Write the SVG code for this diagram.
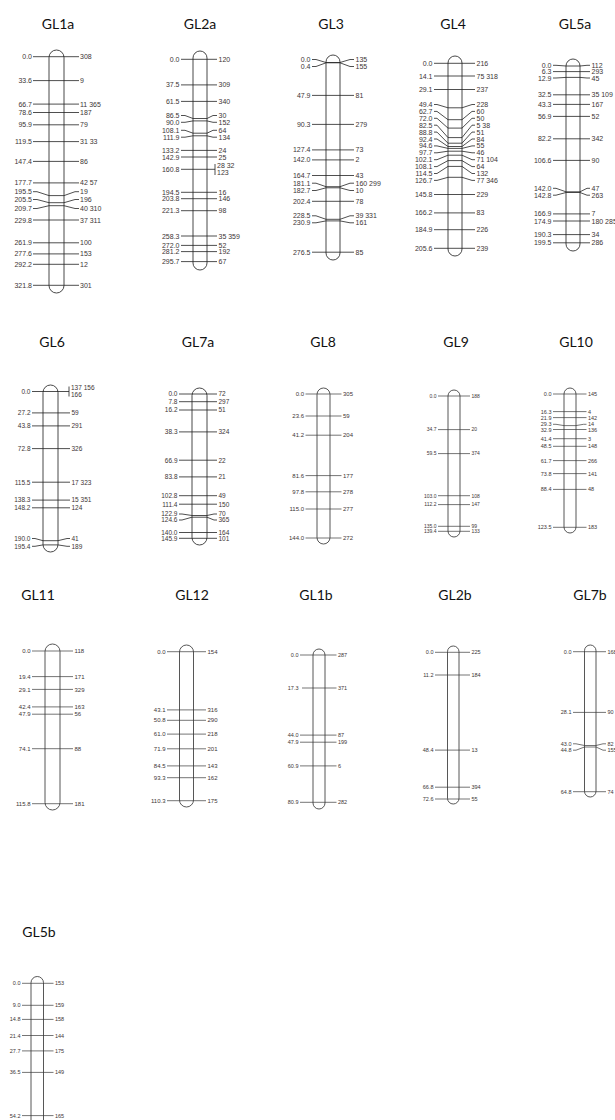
<svg xmlns="http://www.w3.org/2000/svg" width="615" height="1120" viewBox="0 0 615 1120">
<style>
.bg{fill:#fff}
.chr{fill:none;stroke:#333;stroke-width:0.9}
.m path{fill:none;stroke:#222;stroke-width:0.8}
.lt .chr{stroke:#444}
.lt .m path{stroke:#3a3a3a;stroke-width:0.7}
.t{font-family:Lato,"Open Sans","Liberation Sans",sans-serif;font-size:14px;fill:#111;text-anchor:middle}
.l,.r{font-family:"Liberation Sans",Arial,sans-serif;fill:#3d3535}
.l{text-anchor:end}
.f7{font-size:7px}.f65{font-size:6.5px}.f6{font-size:6px}.f55{font-size:5.5px}.f5{font-size:5px}
</style>
<rect class="bg" x="0" y="0" width="615" height="1120"/>

<g id="GL1a">
<text class="t" x="58" y="29">GL1a</text>
<rect class="chr" x="49" y="50" width="15" height="243" rx="7.5"/>
<g class="m">
<path d="M33 56.7H79"/><path d="M33 80.6H79"/><path d="M33 104.1H79"/><path d="M33 112.5H79"/><path d="M33 124.8H79"/><path d="M33 141.6H79"/><path d="M33 161.4H79"/><path d="M33 182.9H79"/>
<path d="M33 191.7h4L49 195.6H64L75 191.7h4"/><path d="M33 199.5h4L49 202.7H64L75 199.5h4"/><path d="M33 208.5h4L49 205.7H64L75 208.5h4"/>
<path d="M33 220H79"/><path d="M33 242.8H79"/><path d="M33 253.9H79"/><path d="M33 264.3H79"/><path d="M33 285.3H79"/>
</g>
<g class="l f7">
<text x="32" y="59.2">0.0</text><text x="32" y="83.1">33.6</text><text x="32" y="106.6">66.7</text><text x="32" y="115">78.6</text><text x="32" y="127.3">95.9</text><text x="32" y="144.1">119.5</text><text x="32" y="163.9">147.4</text><text x="32" y="185.4">177.7</text><text x="32" y="194.2">195.5</text><text x="32" y="202">205.5</text><text x="32" y="211">209.7</text><text x="32" y="222.5">229.8</text><text x="32" y="245.3">261.9</text><text x="32" y="256.4">277.6</text><text x="32" y="266.8">292.2</text><text x="32" y="287.8">321.8</text>
</g>
<g class="r f7">
<text x="80" y="59.2">308</text><text x="80" y="83.1">9</text><text x="80" y="106.6">11 365</text><text x="80" y="115">187</text><text x="80" y="127.3">79</text><text x="80" y="144.1">31 33</text><text x="80" y="163.9">86</text><text x="80" y="185.4">42 57</text><text x="80" y="194.2">19</text><text x="80" y="202">196</text><text x="80" y="211">40 310</text><text x="80" y="222.5">37 311</text><text x="80" y="245.3">100</text><text x="80" y="256.4">153</text><text x="80" y="266.8">12</text><text x="80" y="287.8">301</text>
</g>
</g>

<g id="GL2a">
<text class="t" x="200" y="29">GL2a</text>
<rect class="chr" x="193" y="51" width="14" height="219" rx="7"/>
<g class="m">
<path d="M181 59.3H217"/><path d="M181 84.9H217"/><path d="M181 101.4H217"/>
<path d="M181 115.5h4L193 118.5H207L213 115.5h4"/><path d="M181 122.3h4L193 120.9H207L213 122.3h4"/>
<path d="M181 130.3h4L193 133.2H207L213 130.3h4"/><path d="M181 137.2h4L193 135.8H207L213 137.2h4"/>
<path d="M181 150.4H217"/><path d="M181 157H217"/><path d="M181 169.3H215"/><path d="M215 164V175"/>
<path d="M181 192.3H217"/><path d="M181 198.7H217"/><path d="M181 210.7H217"/><path d="M181 236H217"/><path d="M181 245.4H217"/><path d="M181 251.6H217"/><path d="M181 261.6H217"/>
</g>
<g class="l f7">
<text x="179.5" y="61.8">0.0</text><text x="179.5" y="87.4">37.5</text><text x="179.5" y="103.9">61.5</text><text x="179.5" y="118">86.5</text><text x="179.5" y="124.8">90.0</text><text x="179.5" y="132.8">108.1</text><text x="179.5" y="139.7">111.9</text><text x="179.5" y="152.9">133.2</text><text x="179.5" y="159.5">142.9</text><text x="179.5" y="171.8">160.8</text><text x="179.5" y="194.8">194.5</text><text x="179.5" y="201.2">203.8</text><text x="179.5" y="213.2">221.3</text><text x="179.5" y="238.5">258.3</text><text x="179.5" y="247.9">272.0</text><text x="179.5" y="254.1">281.2</text><text x="179.5" y="264.1">295.7</text>
</g>
<g class="r f7">
<text x="218.5" y="61.8">120</text><text x="218.5" y="87.4">309</text><text x="218.5" y="103.9">340</text><text x="218.5" y="118">30</text><text x="218.5" y="124.8">152</text><text x="218.5" y="132.8">64</text><text x="218.5" y="139.7">134</text><text x="218.5" y="152.9">24</text><text x="218.5" y="159.5">25</text><text x="217" y="168.4">28 32</text><text x="217" y="175.1">123</text><text x="218.5" y="194.8">16</text><text x="218.5" y="201.2">146</text><text x="218.5" y="213.2">98</text><text x="218.5" y="238.5">35 359</text><text x="218.5" y="247.9">52</text><text x="218.5" y="254.1">192</text><text x="218.5" y="264.1">67</text>
</g>
</g>

<g id="GL3">
<text class="t" x="331" y="29">GL3</text>
<rect class="chr" x="326" y="55" width="14" height="205" rx="7"/>
<g class="m">
<path d="M312 59.5h4L326 62.5H340L350 59.5h4"/><path d="M312 66.5h4L326 62.8H340L350 66.5h4"/>
<path d="M312 95.4H354"/><path d="M312 124.4H354"/><path d="M312 149.9H354"/><path d="M312 159.9H354"/><path d="M312 175.5H354"/>
<path d="M312 183.2h4L326 186.7H340L350 183.2h4"/><path d="M312 190.5h4L326 187.8H340L350 190.5h4"/>
<path d="M312 201.3H354"/>
<path d="M312 215.8h4L326 219.3H340L350 215.8h4"/><path d="M312 222.8h4L326 220.9H340L350 222.8h4"/>
<path d="M312 252.2H354"/>
</g>
<g class="l f7">
<text x="310.5" y="62">0.0</text><text x="310.5" y="69">0.4</text><text x="310.5" y="97.9">47.9</text><text x="310.5" y="126.9">90.3</text><text x="310.5" y="152.4">127.4</text><text x="310.5" y="162.4">142.0</text><text x="310.5" y="178">164.7</text><text x="310.5" y="185.7">181.1</text><text x="310.5" y="193">182.7</text><text x="310.5" y="203.8">202.4</text><text x="310.5" y="218.3">228.5</text><text x="310.5" y="225.3">230.9</text><text x="310.5" y="254.7">276.5</text>
</g>
<g class="r f7">
<text x="355.5" y="62">135</text><text x="355.5" y="69">155</text><text x="355.5" y="97.9">81</text><text x="355.5" y="126.9">279</text><text x="355.5" y="152.4">73</text><text x="355.5" y="162.4">2</text><text x="355.5" y="178">43</text><text x="355.5" y="185.7">160 299</text><text x="355.5" y="193">10</text><text x="355.5" y="203.8">78</text><text x="355.5" y="218.3">39 331</text><text x="355.5" y="225.3">161</text><text x="355.5" y="254.7">85</text>
</g>
</g>

<g id="GL4">
<text class="t" x="453" y="29">GL4</text>
<rect class="chr" x="448" y="56" width="14" height="200" rx="7"/>
<g class="m">
<path d="M434 63.3H475"/><path d="M434 76H475"/><path d="M434 89.5H475"/>
<path d="M434 104.5h3L448 107.8H462L472 104.5h3"/><path d="M434 111.4h3L448 119.7H462L472 111.4h3"/><path d="M434 118.3h3L448 128.1H462L472 118.3h3"/><path d="M434 125.2h3L448 137.6H462L472 125.2h3"/><path d="M434 132.1h3L448 143.2H462L472 132.1h3"/><path d="M434 139h3L448 146.5H462L472 139h3"/><path d="M434 145.9h3L448 148.4H462L472 145.9h3"/><path d="M434 152.8h3L448 151.2H462L472 152.8h3"/><path d="M434 159.7h3L448 155.2H462L472 159.7h3"/><path d="M434 166.6h3L448 160.6H462L472 166.6h3"/><path d="M434 173.5h3L448 166.4H462L472 173.5h3"/><path d="M434 180.4h3L448 177.3H462L472 180.4h3"/>
<path d="M434 194.5H475"/><path d="M434 212.9H475"/><path d="M434 229.7H475"/><path d="M434 248.3H475"/>
</g>
<g class="l f7">
<text x="432.5" y="65.8">0.0</text><text x="432.5" y="78.5">14.1</text><text x="432.5" y="92">29.1</text><text x="432.5" y="107">49.4</text><text x="432.5" y="113.9">62.7</text><text x="432.5" y="120.8">72.0</text><text x="432.5" y="127.7">82.5</text><text x="432.5" y="134.6">88.8</text><text x="432.5" y="141.5">92.4</text><text x="432.5" y="148.4">94.6</text><text x="432.5" y="155.3">97.7</text><text x="432.5" y="162.2">102.1</text><text x="432.5" y="169.1">108.1</text><text x="432.5" y="176">114.5</text><text x="432.5" y="182.9">126.7</text><text x="432.5" y="197">145.8</text><text x="432.5" y="215.4">166.2</text><text x="432.5" y="232.2">184.9</text><text x="432.5" y="250.8">205.6</text>
</g>
<g class="r f7">
<text x="476.5" y="65.8">216</text><text x="476.5" y="78.5">75 318</text><text x="476.5" y="92">237</text><text x="476.5" y="107">228</text><text x="476.5" y="113.9">60</text><text x="476.5" y="120.8">50</text><text x="476.5" y="127.7">5 38</text><text x="476.5" y="134.6">51</text><text x="476.5" y="141.5">84</text><text x="476.5" y="148.4">55</text><text x="476.5" y="155.3">46</text><text x="476.5" y="162.2">71 104</text><text x="476.5" y="169.1">64</text><text x="476.5" y="176">132</text><text x="476.5" y="182.9">77 346</text><text x="476.5" y="197">229</text><text x="476.5" y="215.4">83</text><text x="476.5" y="232.2">226</text><text x="476.5" y="250.8">239</text>
</g>
</g>

<g id="GL5a">
<text class="t" x="575" y="29">GL5a</text>
<rect class="chr" x="566" y="59" width="14" height="192" rx="7"/>
<g class="m">
<path d="M553 65.3h3L566 66H580L587 65.3h3"/><path d="M553 71.6H590"/><path d="M553 78h3L566 77.4H580L587 78h3"/>
<path d="M553 94.8H590"/><path d="M553 104.4H590"/><path d="M553 116.4H590"/><path d="M553 138.8H590"/><path d="M553 160.4H590"/>
<path d="M553 188.3h3L566 191.8H580L587 188.3h3"/><path d="M553 195.2h3L566 192.5H580L587 195.2h3"/>
<path d="M553 213.9H590"/><path d="M553 221H590"/><path d="M553 234.6H590"/><path d="M553 242.8H590"/>
</g>
<g class="l f7">
<text x="551.5" y="67.8">0.0</text><text x="551.5" y="74.1">6.3</text><text x="551.5" y="80.5">12.9</text><text x="551.5" y="97.3">32.5</text><text x="551.5" y="106.9">43.3</text><text x="551.5" y="118.9">56.9</text><text x="551.5" y="141.3">82.2</text><text x="551.5" y="162.9">106.6</text><text x="551.5" y="190.8">142.0</text><text x="551.5" y="197.7">142.8</text><text x="551.5" y="216.4">166.9</text><text x="551.5" y="223.5">174.9</text><text x="551.5" y="237.1">190.3</text><text x="551.5" y="245.3">199.5</text>
</g>
<g class="r f7">
<text x="591.5" y="67.8">112</text><text x="591.5" y="74.1">293</text><text x="591.5" y="80.5">45</text><text x="591.5" y="97.3">35 109</text><text x="591.5" y="106.9">167</text><text x="591.5" y="118.9">52</text><text x="591.5" y="141.3">342</text><text x="591.5" y="162.9">90</text><text x="591.5" y="190.8">47</text><text x="591.5" y="197.7">263</text><text x="591.5" y="216.4">7</text><text x="591.5" y="223.5">180 285</text><text x="591.5" y="237.1">34</text><text x="591.5" y="245.3">286</text>
</g>
</g>

<g id="GL6">
<text class="t" x="52" y="347">GL6</text>
<rect class="chr" x="43" y="385" width="15" height="167" rx="7.5"/>
<g class="m">
<path d="M32 391.5H69"/><path d="M69 386.5V396.5"/>
<path d="M32 412.9H70"/><path d="M32 425.9H70"/><path d="M32 448.6H70"/><path d="M32 482.2H70"/><path d="M32 500.1H70"/><path d="M32 507.8H70"/>
<path d="M32 538.5h3L43 540.7H58L67 538.5h3"/><path d="M32 546.3h3L43 544.9H58L67 546.3h3"/>
</g>
<g class="l f65">
<text x="30.5" y="393.8">0.0</text><text x="30.5" y="415.2">27.2</text><text x="30.5" y="428.2">43.8</text><text x="30.5" y="450.9">72.8</text><text x="30.5" y="484.5">115.5</text><text x="30.5" y="502.4">138.3</text><text x="30.5" y="510.1">148.2</text><text x="30.5" y="540.8">190.0</text><text x="30.5" y="548.6">195.4</text>
</g>
<g class="r f65">
<text x="71" y="390.3">137 156</text><text x="71" y="396.8">166</text><text x="71.5" y="415.2">59</text><text x="71.5" y="428.2">291</text><text x="71.5" y="450.9">326</text><text x="71.5" y="484.5">17 323</text><text x="71.5" y="502.4">15 351</text><text x="71.5" y="510.1">124</text><text x="71.5" y="540.8">41</text><text x="71.5" y="548.6">189</text>
</g>
</g>

<g id="GL7a">
<text class="t" x="198" y="347">GL7a</text>
<rect class="chr" x="192" y="388" width="15" height="157" rx="7.5"/>
<g class="m">
<path d="M179 394H217"/><path d="M179 401.7H217"/><path d="M179 410H217"/><path d="M179 431.9H217"/><path d="M179 460.2H217"/><path d="M179 476.9H217"/><path d="M179 495.7H217"/><path d="M179 504.2H217"/>
<path d="M179 514h3L192 515.5H207L214 514h3"/><path d="M179 520h3L192 517.2H207L214 520h3"/>
<path d="M179 532.5H217"/><path d="M179 538.3H217"/>
</g>
<g class="l f65">
<text x="177.5" y="396.3">0.0</text><text x="177.5" y="404">7.8</text><text x="177.5" y="412.3">16.2</text><text x="177.5" y="434.2">38.3</text><text x="177.5" y="462.5">66.9</text><text x="177.5" y="479.2">83.8</text><text x="177.5" y="498">102.8</text><text x="177.5" y="506.5">111.4</text><text x="177.5" y="516.3">122.9</text><text x="177.5" y="522.3">124.6</text><text x="177.5" y="534.8">140.0</text><text x="177.5" y="540.6">145.9</text>
</g>
<g class="r f65">
<text x="218.5" y="396.3">72</text><text x="218.5" y="404">297</text><text x="218.5" y="412.3">51</text><text x="218.5" y="434.2">324</text><text x="218.5" y="462.5">22</text><text x="218.5" y="479.2">21</text><text x="218.5" y="498">49</text><text x="218.5" y="506.5">150</text><text x="218.5" y="516.3">70</text><text x="218.5" y="522.3">365</text><text x="218.5" y="534.8">164</text><text x="218.5" y="540.6">101</text>
</g>
</g>

<g id="GL8" class="lt">
<text class="t" x="323" y="347">GL8</text>
<rect class="chr" x="317" y="388" width="13" height="156" rx="6.5"/>
<g class="m">
<path d="M305.5 394H341.5"/><path d="M305.5 416H341.5"/><path d="M305.5 435.2H341.5"/><path d="M305.5 475.6H341.5"/><path d="M305.5 491.8H341.5"/><path d="M305.5 509H341.5"/><path d="M305.5 538H341.5"/>
</g>
<g class="l f6">
<text x="304" y="396.1">0.0</text><text x="304" y="418.1">23.6</text><text x="304" y="437.3">41.2</text><text x="304" y="477.7">81.6</text><text x="304" y="493.9">97.8</text><text x="304" y="511.1">115.0</text><text x="304" y="540.1">144.0</text>
</g>
<g class="r f6">
<text x="343" y="396.1">305</text><text x="343" y="418.1">59</text><text x="343" y="437.3">204</text><text x="343" y="477.7">177</text><text x="343" y="493.9">278</text><text x="343" y="511.1">277</text><text x="343" y="540.1">272</text>
</g>
</g>

<g id="GL9" class="lt">
<text class="t" x="456" y="347">GL9</text>
<rect class="chr" x="448" y="390" width="12" height="147" rx="6"/>
<g class="m">
<path d="M438 396H470"/><path d="M438 429.6H470"/><path d="M438 453.6H470"/><path d="M438 495.7H470"/><path d="M438 504.6H470"/><path d="M438 526.3H470"/><path d="M438 531.3H470"/>
</g>
<g class="l f5">
<text x="436.5" y="397.8">0.0</text><text x="436.5" y="431.4">34.7</text><text x="436.5" y="455.4">59.5</text><text x="436.5" y="497.5">103.0</text><text x="436.5" y="506.4">112.2</text><text x="436.5" y="528">135.0</text><text x="436.5" y="533.2">139.4</text>
</g>
<g class="r f5">
<text x="471.5" y="397.8">188</text><text x="471.5" y="431.4">20</text><text x="471.5" y="455.4">374</text><text x="471.5" y="497.5">108</text><text x="471.5" y="506.4">147</text><text x="471.5" y="528">99</text><text x="471.5" y="533.2">133</text>
</g>
</g>

<g id="GL10" class="lt">
<text class="t" x="576" y="347">GL10</text>
<rect class="chr" x="564" y="388" width="12" height="145" rx="6"/>
<g class="m">
<path d="M553 394H586.5"/><path d="M553 411.6H586.5"/><path d="M553 417.6H586.5"/>
<path d="M553 424.3h3L564 425.6H576L583.5 424.3h3"/><path d="M553 429.5H586.5"/>
<path d="M553 438.7H586.5"/><path d="M553 446.3H586.5"/><path d="M553 460.6H586.5"/><path d="M553 473.6H586.5"/><path d="M553 489.4H586.5"/><path d="M553 527.3H586.5"/>
</g>
<g class="l f55">
<text x="551.5" y="396">0.0</text><text x="551.5" y="413.6">16.3</text><text x="551.5" y="419.6">21.9</text><text x="551.5" y="426.3">29.3</text><text x="551.5" y="431.5">32.9</text><text x="551.5" y="440.7">41.4</text><text x="551.5" y="448.3">48.5</text><text x="551.5" y="462.6">61.7</text><text x="551.5" y="475.6">73.8</text><text x="551.5" y="491.4">88.4</text><text x="551.5" y="529.3">123.5</text>
</g>
<g class="r f55">
<text x="588" y="396">145</text><text x="588" y="413.6">4</text><text x="588" y="419.6">142</text><text x="588" y="426.3">14</text><text x="588" y="431.5">136</text><text x="588" y="440.7">3</text><text x="588" y="448.3">148</text><text x="588" y="462.6">266</text><text x="588" y="475.6">141</text><text x="588" y="491.4">48</text><text x="588" y="529.3">183</text>
</g>
</g>

<g id="GL11" class="lt">
<text class="t" x="38" y="600">GL11</text>
<rect class="chr" x="45" y="644" width="15" height="166" rx="7.5"/>
<g class="m">
<path d="M32 651H73"/><path d="M32 676.6H73"/><path d="M32 689.4H73"/><path d="M32 706.9H73"/><path d="M32 714.2H73"/><path d="M32 748.7H73"/><path d="M32 803.7H73"/>
</g>
<g class="l f6">
<text x="30.5" y="653.1">0.0</text><text x="30.5" y="678.7">19.4</text><text x="30.5" y="691.5">29.1</text><text x="30.5" y="709">42.4</text><text x="30.5" y="716.3">47.9</text><text x="30.5" y="750.8">74.1</text><text x="30.5" y="805.8">115.8</text>
</g>
<g class="r f6">
<text x="74.5" y="653.1">118</text><text x="74.5" y="678.7">171</text><text x="74.5" y="691.5">329</text><text x="74.5" y="709">163</text><text x="74.5" y="716.3">56</text><text x="74.5" y="750.8">88</text><text x="74.5" y="805.8">181</text>
</g>
</g>

<g id="GL12" class="lt">
<text class="t" x="192" y="600">GL12</text>
<rect class="chr" x="179.5" y="645" width="14" height="162" rx="7"/>
<g class="m">
<path d="M167 651.7H206"/><path d="M167 709.9H206"/><path d="M167 720.3H206"/><path d="M167 734.1H206"/><path d="M167 748.8H206"/><path d="M167 765.9H206"/><path d="M167 777.7H206"/><path d="M167 800.7H206"/>
</g>
<g class="l f6">
<text x="165.5" y="653.8">0.0</text><text x="165.5" y="712">43.1</text><text x="165.5" y="722.4">50.8</text><text x="165.5" y="736.2">61.0</text><text x="165.5" y="750.9">71.9</text><text x="165.5" y="768">84.5</text><text x="165.5" y="779.8">93.3</text><text x="165.5" y="802.8">110.3</text>
</g>
<g class="r f6">
<text x="207.5" y="653.8">154</text><text x="207.5" y="712">316</text><text x="207.5" y="722.4">290</text><text x="207.5" y="736.2">218</text><text x="207.5" y="750.9">201</text><text x="207.5" y="768">143</text><text x="207.5" y="779.8">162</text><text x="207.5" y="802.8">175</text>
</g>
</g>

<g id="GL1b" class="lt">
<text class="t" x="316" y="600">GL1b</text>
<rect class="chr" x="313" y="649" width="12" height="160" rx="6"/>
<g class="m">
<path d="M300 655H336.5"/><path d="M302 688H336.5"/><path d="M300 735.1H336.5"/><path d="M300 742.2H336.5"/><path d="M300 765.9H336.5"/><path d="M300 802.3H336.5"/>
</g>
<g class="l f55">
<text x="298.5" y="657">0.0</text><text x="298.5" y="690">17.3</text><text x="298.5" y="737.1">44.0</text><text x="298.5" y="744.2">47.9</text><text x="298.5" y="767.9">60.9</text><text x="298.5" y="804.3">80.9</text>
</g>
<g class="r f55">
<text x="338" y="657">287</text><text x="338" y="690">371</text><text x="338" y="737.1">87</text><text x="338" y="744.2">199</text><text x="338" y="767.9">6</text><text x="338" y="804.3">282</text>
</g>
</g>

<g id="GL2b" class="lt">
<text class="t" x="455" y="600">GL2b</text>
<rect class="chr" x="447.5" y="646" width="11.5" height="158" rx="5.75"/>
<g class="m">
<path d="M435 652.3H470"/><path d="M435 675H470"/><path d="M435 750.1H470"/><path d="M435 787.2H470"/><path d="M435 799H470"/>
</g>
<g class="l f55">
<text x="433.5" y="654.3">0.0</text><text x="433.5" y="677">11.2</text><text x="433.5" y="752.1">48.4</text><text x="433.5" y="789.2">66.8</text><text x="433.5" y="801">72.6</text>
</g>
<g class="r f55">
<text x="471.5" y="654.3">225</text><text x="471.5" y="677">184</text><text x="471.5" y="752.1">13</text><text x="471.5" y="789.2">394</text><text x="471.5" y="801">55</text>
</g>
</g>

<g id="GL7b" class="lt">
<text class="t" x="590" y="600">GL7b</text>
<rect class="chr" x="584.5" y="645" width="11.5" height="152" rx="5.75"/>
<g class="m">
<path d="M573 651.7H606"/><path d="M573 712.4H606"/>
<path d="M573 743.8h3L584.5 745.5H596L603 743.8h3"/><path d="M573 750.2h3L584.5 747H596L603 750.2h3"/>
<path d="M573 791.7H606"/>
</g>
<g class="l f55">
<text x="571.5" y="653.7">0.0</text><text x="571.5" y="714.4">28.1</text><text x="571.5" y="745.8">43.0</text><text x="571.5" y="752.2">44.8</text><text x="571.5" y="793.7">64.8</text>
</g>
<g class="r f55">
<text x="607.5" y="653.7">168</text><text x="607.5" y="714.4">90</text><text x="607.5" y="745.8">82</text><text x="607.5" y="752.2">155</text><text x="607.5" y="793.7">74</text>
</g>
</g>

<g id="GL5b" class="lt">
<text class="t" x="39" y="937">GL5b</text>
<rect class="chr" x="31" y="976.5" width="12.5" height="170" rx="6.25"/>
<g class="m">
<path d="M22 983.3H53.5"/><path d="M22 1005.3H53.5"/><path d="M22 1019.4H53.5"/><path d="M22 1035.5H53.5"/><path d="M22 1050.9H53.5"/><path d="M22 1072.4H53.5"/><path d="M22 1115.6H53.5"/>
</g>
<g class="l f55">
<text x="20.5" y="985.3">0.0</text><text x="20.5" y="1007.3">9.0</text><text x="20.5" y="1021.4">14.8</text><text x="20.5" y="1037.5">21.4</text><text x="20.5" y="1052.9">27.7</text><text x="20.5" y="1074.4">36.5</text><text x="20.5" y="1117.6">54.2</text>
</g>
<g class="r f55">
<text x="55" y="985.3">153</text><text x="55" y="1007.3">159</text><text x="55" y="1021.4">158</text><text x="55" y="1037.5">144</text><text x="55" y="1052.9">175</text><text x="55" y="1074.4">149</text><text x="55" y="1117.6">165</text>
</g>
</g>
</svg>
